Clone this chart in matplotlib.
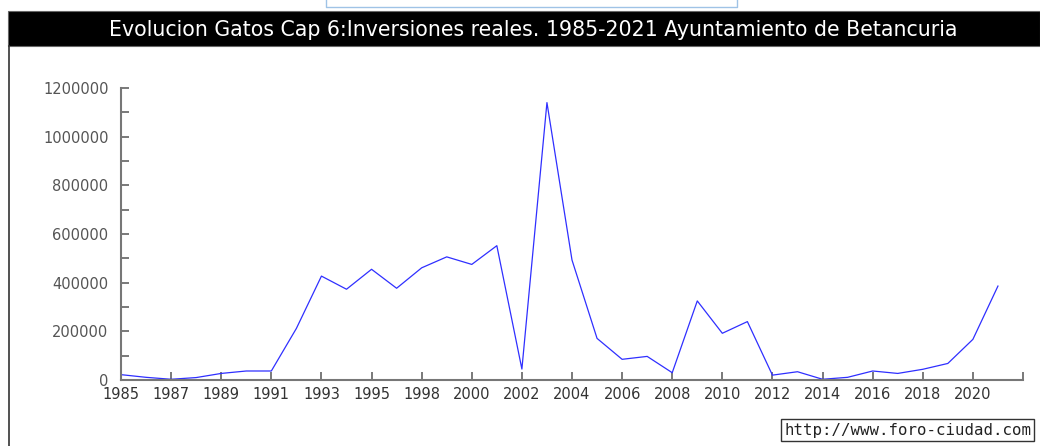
import matplotlib
matplotlib.use("Agg")
import matplotlib.pyplot as plt
from matplotlib.patches import Rectangle
from matplotlib.lines import Line2D

# ---- data ----
years = [1985, 1986, 1987, 1988, 1989, 1990, 1991, 1992, 1993, 1994, 1995,
         1996, 1998, 1999, 2000, 2001, 2002, 2003, 2004, 2005, 2006, 2007,
         2008, 2009, 2010, 2011, 2012, 2013, 2014, 2015, 2016, 2017, 2018,
         2019, 2020, 2021]
values = [22000, 11000, 3000, 10000, 27000, 37000, 37000, 212000, 427000, 373000,
          455000, 377000, 461000, 506000, 475000, 552000, 45000, 1140000, 493000,
          171000, 85000, 97000, 30000, 325000, 192000, 240000, 20000, 34000, 3000,
          11000, 37000, 27000, 44000, 68000, 167000, 386000]
y_ticks = [0, 200000, 400000, 600000, 800000, 1000000, 1200000]
title = "Evolucion Gatos Cap 6:Inversiones reales. 1985-2021 Ayuntamiento de Betancuria"
watermark = "http://www.foro-ciudad.com"

W, H = 1040, 446
fig = plt.figure(figsize=(W / 100, H / 100), dpi=100)
fig.patch.set_facecolor("white")

def fx(px):
    return px / W

def fy(py):
    return 1 - py / H

# title bar
fig.patches.append(Rectangle((fx(8), fy(46)), 1 - fx(8), fy(11) - fy(46),
                             transform=fig.transFigure, facecolor="black",
                             edgecolor="#666666", lw=0.8, zorder=0))
fig.text(fx(533), fy(30), title, color="white", fontsize=14.8,
         family="DejaVu Sans", ha="center", va="center")
# left border line
fig.lines.append(Line2D([fx(9), fx(9)], [fy(46), 0], transform=fig.transFigure,
                        color="#333333", lw=1.2))
# small top box
fig.lines.append(Line2D([fx(326), fx(326), fx(737), fx(737)],
                        [1, fy(7), fy(7), 1], transform=fig.transFigure,
                        color="#9fc3e6", lw=1.0))

ax = fig.add_axes([fx(121), fy(380), fx(1023) - fx(121), fy(88) - fy(380)])
x = list(range(len(values)))
ax.plot(x, values, color="#2f2fff", lw=0.9)

ax.set_xlim(0, len(values))
ax.set_ylim(0, 1200000)

xt = list(range(0, len(values) + 1, 2))
ax.set_xticks(xt)
ax.set_xticklabels([str(years[i]) if i < len(years) else "" for i in xt])
ax.set_yticks(y_ticks)
ax.set_yticklabels([str(v) for v in y_ticks])
ax.set_yticks(list(range(100000, 1200000, 200000)), minor=True)

ax.tick_params(axis="x", direction="in", length=6, width=1.1, color="#555555",
               labelsize=10.5, labelcolor="#333333", pad=5)
ax.tick_params(axis="y", which="both", direction="in", length=6, width=1.1,
               color="#555555", labelsize=10.5, labelcolor="#555555", pad=9)

for s in ["top", "right"]:
    ax.spines[s].set_visible(False)
for s in ["left", "bottom"]:
    ax.spines[s].set_color("#777777")
    ax.spines[s].set_linewidth(1.5)
ax.set_facecolor("none")

fig.text(fx(784), fy(430), watermark, family="DejaVu Sans Mono", fontsize=11.3,
         color="#222222", ha="left", va="center",
         bbox=dict(boxstyle="square,pad=0.2", facecolor="white",
                   edgecolor="#333333", lw=1.0))

fig.savefig("out.png", dpi=100)
